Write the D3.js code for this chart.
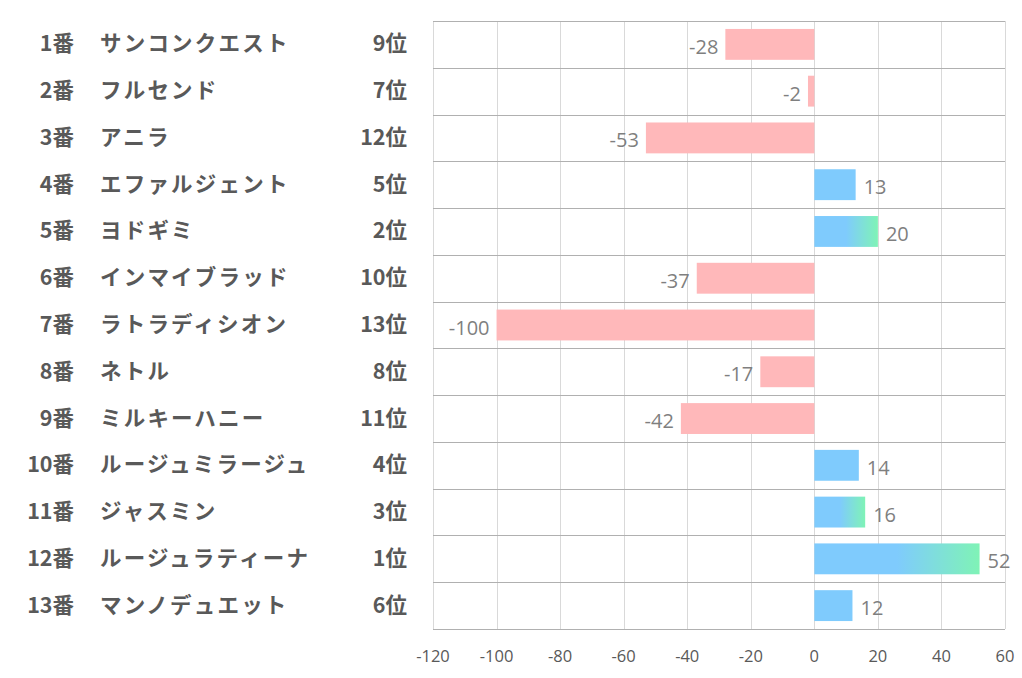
<!DOCTYPE html>
<html><head><meta charset="utf-8">
<script src="https://cdn.jsdelivr.net/npm/d3@7"></script>
<style>
html,body{margin:0;padding:0;background:#fff;}
svg{display:block;}
</style></head>
<body>
<svg id="chart" width="1022" height="678"></svg>
<script>
const numbers = ["1番","2番","3番","4番","5番","6番","7番","8番","9番","10番","11番","12番","13番"];
const names = ["サンコンクエスト","フルセンド","アニラ","エファルジェント","ヨドギミ","インマイブラッド","ラトラディシオン","ネトル","ミルキーハニー","ルージュミラージュ","ジャスミン","ルージュラティーナ","マンノデュエット"];
const ranks = ["9位","7位","12位","5位","2位","10位","13位","8位","11位","4位","3位","1位","6位"];
const values = [-28,-2,-53,13,20,-37,-100,-17,-42,14,16,52,12];
const xTicks = [-120,-100,-80,-60,-40,-20,0,20,40,60];

(function(){
const svg = d3.select("#chart");
const pLeft = 433, pRight = 1005, pTop = 21, pBottom = 629;
const x = d3.scaleLinear().domain([-120,60]).range([pLeft,pRight]);
const y = d3.scaleBand().domain(d3.range(numbers.length)).range([pTop,pBottom]).paddingInner(0).paddingOuter(0);
const barH = y.bandwidth()*0.66;

const defs = svg.append("defs");
const grad = defs.append("linearGradient").attr("id","posGrad").attr("x1","0").attr("x2","1").attr("y1","0").attr("y2","0");
grad.append("stop").attr("offset","0.5").attr("stop-color","#7fcbfd");
grad.append("stop").attr("offset","1").attr("stop-color","#7ff3b6");

// vertical grid
svg.append("g").selectAll("line").data(xTicks).join("line")
  .attr("x1",d=>Math.round(x(d))+0.5).attr("x2",d=>Math.round(x(d))+0.5)
  .attr("y1",pTop).attr("y2",pBottom)
  .attr("stroke","#d9d9d9").attr("stroke-width",1);

// horizontal grid lines (category boundaries)
const hb = d3.range(numbers.length+1).map(i=> i<numbers.length ? y(i) : pBottom);
svg.append("g").selectAll("line").data(hb).join("line")
  .attr("x1",pLeft).attr("x2",pRight)
  .attr("y1",d=>Math.round(d)+0.5).attr("y2",d=>Math.round(d)+0.5)
  .attr("stroke","#b0b0b0").attr("stroke-width",1);

// bars
const rankNum = ranks.map(r=>parseInt(r));
svg.append("g").selectAll("rect").data(values).join("rect")
  .attr("x",d=>x(Math.min(0,d)))
  .attr("width",d=>Math.abs(x(d)-x(0)))
  .attr("y",(d,i)=>y(i)+(y.bandwidth()-barH)/2)
  .attr("height",barH)
  .attr("fill",(d,i)=> d<0 ? "#ffb8ba" : (rankNum[i]<=3 ? "url(#posGrad)" : "#7fcbfd"));

// value labels
svg.append("g").selectAll("text").data(values).join("text")
  .attr("x",d=> d<0 ? x(d)-7 : x(d)+8)
  .attr("y",(d,i)=>y(i)+y.bandwidth()/2+2)
  .attr("text-anchor",d=> d<0 ? "end" : "start")
  .attr("dominant-baseline","central")
  .attr("font-family","'Open Sans','Noto Sans',sans-serif")
  .attr("font-size",20)
  .attr("fill","#7f7f7f")
  .text(d=>d);

// x axis tick labels
svg.append("g").selectAll("text").data(xTicks).join("text")
  .attr("x",d=>x(d)).attr("y",655)
  .attr("text-anchor","middle").attr("dominant-baseline","central")
  .attr("font-family","'Open Sans','Noto Sans',sans-serif")
  .attr("font-size",16.5).attr("fill","#595959")
  .text(d=>d);

// left labels
const lab = svg.append("g").attr("font-family","'Noto Sans CJK JP',sans-serif").attr("font-weight","bold").attr("fill","#595959").attr("font-size",21.5);
const ly = i => y(i)+y.bandwidth()/2-2.5;
lab.selectAll("text.num").data(numbers).join("text").attr("class","num")
  .attr("x",74).attr("y",(d,i)=>ly(i)).attr("text-anchor","end").attr("dominant-baseline","central")
  .text(d=>d);
lab.selectAll("text.name").data(names).join("text").attr("class","name")
  .attr("x",100).attr("y",(d,i)=>ly(i)).attr("dominant-baseline","central")
  .attr("letter-spacing",2.2)
  .text(d=>d);
lab.selectAll("text.rank").data(ranks).join("text").attr("class","rank")
  .attr("x",407).attr("y",(d,i)=>ly(i)).attr("text-anchor","end").attr("dominant-baseline","central")
  .text(d=>d);
})();
</script>
</body></html>
